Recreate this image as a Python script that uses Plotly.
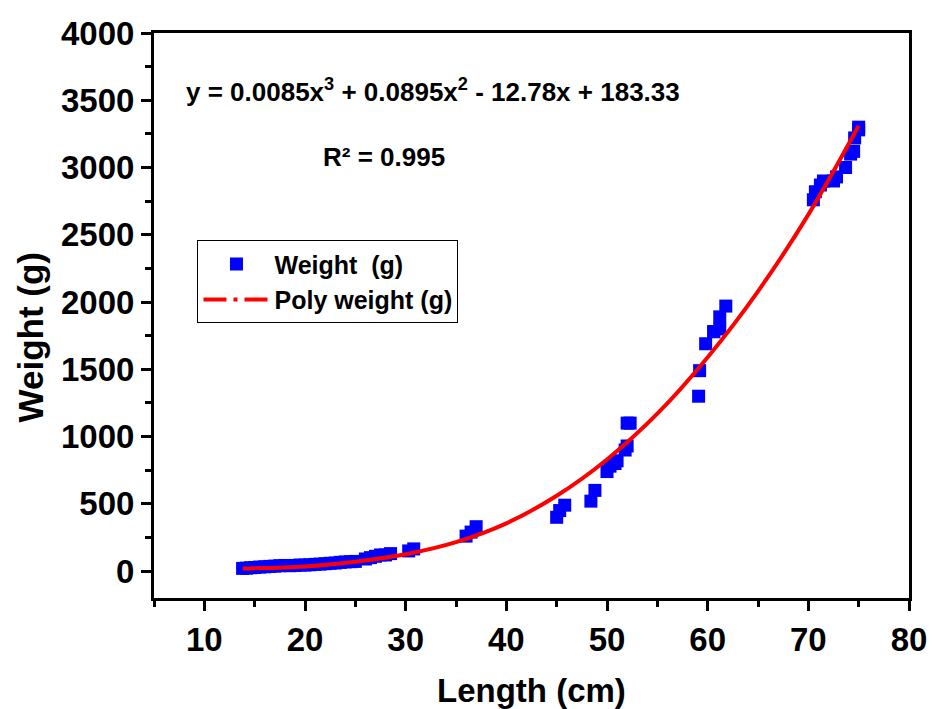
import plotly.graph_objects as go

length_cm = [13.8, 14.2, 14.6, 15.0, 15.5, 16.0, 16.5, 17.0, 17.5, 18.0, 18.5, 19.0,
             19.5, 20.0, 20.5, 21.0, 21.5, 22.0, 22.5, 23.0, 23.5, 24.0, 24.5, 25.0,
             26.0, 26.5, 27.0, 27.5, 28.0, 28.5, 30.3, 30.8,
             36.0, 36.5, 37.0,
             45.0, 45.3, 45.8,
             48.4, 48.8,
             50.0, 50.3, 50.8, 51.0, 51.8, 52.0, 52.0, 52.3,
             59.1, 59.2, 59.8, 60.6, 60.6, 61.2, 61.2, 61.8,
             70.5, 70.7, 71.2, 71.5, 72.5, 72.8, 73.7, 74.2, 74.5, 74.6, 75.0, 75.0]
weight_g = [20, 22, 25, 27, 30, 32, 35, 37, 40, 42, 40, 42,
            45, 45, 47, 50, 52, 55, 58, 60, 65, 68, 70, 72,
            90, 100, 110, 120, 120, 130, 150, 165,
            260, 290, 330,
            400, 450, 490,
            520, 600,
            740, 780, 800, 820, 900, 930, 1100, 1100,
            1300, 1490, 1690, 1780, 1780, 1800, 1890, 1970,
            2760, 2820, 2870, 2900, 2900, 2930, 3000, 3100, 3120, 3220, 3280, 3300]

# Fitted curve
fit_length = [13.8, 20, 25, 30, 35, 40, 45, 50, 55, 60, 65, 70, 75]
fit_weight = [20, 35, 70, 125, 215, 355, 560, 830, 1170, 1590, 2080, 2650, 3310]

x_ticks = [10, 20, 30, 40, 50, 60, 70, 80]
y_ticks = [0, 500, 1000, 1500, 2000, 2500, 3000, 3500, 4000]

FONT = "Liberation Sans, Arial, sans-serif"

fig = go.Figure()
fig.add_trace(go.Scatter(
    x=length_cm, y=weight_g, mode="markers", name="<b>Weight&nbsp; (g)</b>",
    marker=dict(symbol="square", size=13, color="#0000ff", line=dict(width=0)),
))
fig.add_trace(go.Scatter(
    x=fit_length, y=fit_weight, mode="lines", line_shape="spline",
    line=dict(color="#ff0000", width=4), showlegend=False, hoverinfo="skip",
))
fig.add_trace(go.Scatter(
    x=[None], y=[None], mode="lines", name="<b>Poly weight (g)</b>",
    line=dict(color="#ff0000", width=4, dash="23px,7px,4px,7px"),
))

axis_common = dict(
    showline=True, linecolor="black", linewidth=3, mirror=True,
    ticks="outside", ticklen=10, tickwidth=3, tickcolor="black",
    showgrid=False, zeroline=False,
)

fig.update_xaxes(
    range=[5, 80], tickvals=x_ticks, ticktext=[f"<b>{v}</b>" for v in x_ticks],
    tickfont=dict(family=FONT, size=33, color="black"),
    minor=dict(dtick=5, tick0=0, ticklen=6, tickwidth=3, tickcolor="black", ticks="outside"),
    **axis_common,
)
fig.update_yaxes(
    range=[-200, 4000], tickvals=y_ticks, ticktext=[f"<b>{v}</b>" for v in y_ticks],
    tickfont=dict(family=FONT, size=33, color="black"),
    minor=dict(dtick=250, tick0=0, ticklen=6, tickwidth=3, tickcolor="black", ticks="outside"),
    **axis_common,
)

annots = [
    dict(text="<b>y = 0.0085x<sup>3</sup> + 0.0895x<sup>2</sup> - 12.78x + 183.33</b>",
         x=0.370, y=0.899, size=26),
    dict(text="<b>R² = 0.995</b>", x=0.304, y=0.781, size=26),
    dict(text="<b>Length (cm)</b>", x=0.5, y=-0.163, size=33),
]
for a in annots:
    fig.add_annotation(text=a["text"], x=a["x"], y=a["y"], xref="paper", yref="paper",
                       showarrow=False, xanchor="center", yanchor="middle",
                       font=dict(family=FONT, size=a["size"], color="black"))
fig.add_annotation(text="<b>Weight (g)</b>", x=-0.1623, y=0.462, xref="paper", yref="paper",
                   showarrow=False, textangle=-90, xanchor="center", yanchor="middle",
                   font=dict(family=FONT, size=35, color="black"))

fig.update_layout(
    width=939, height=709,
    margin=dict(l=154, r=21, t=33, b=111),
    paper_bgcolor="white", plot_bgcolor="white",
    font=dict(family=FONT, color="black"),
    legend=dict(x=0.0576, y=0.633, xanchor="left", yanchor="top",
                bgcolor="white", bordercolor="black", borderwidth=1,
                font=dict(family=FONT, size=25, color="black"),
                itemwidth=66, tracegroupgap=0),
)

fig.write_html(
    "out.html",
    config={"displayModeBar": False},
    post_script="document.body.style.margin='0';document.body.style.overflow='hidden';",
)
